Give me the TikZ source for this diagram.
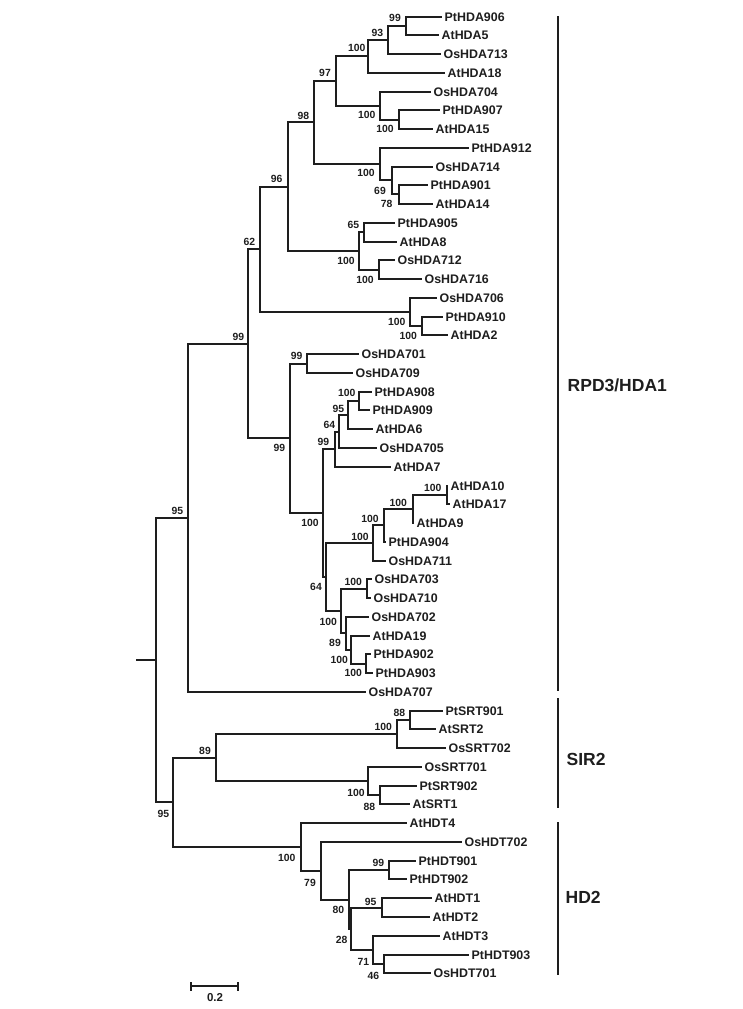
\documentclass[tikz,border=0pt]{standalone}
\usepackage{fontspec}
\setmainfont{Liberation Sans}
\definecolor{ink}{HTML}{1E1E1E}
\begin{document}
\begin{tikzpicture}[x=1pt,y=-1pt,
  br/.style={draw=ink,line width=1.5pt,line join=miter},
  leaf/.style={anchor=west,inner xsep=2.5pt,inner ysep=0pt,text=ink,font=\bfseries\fontsize{12.4}{12.4}\selectfont},
  boot/.style={inner sep=0pt,text=ink,font=\bfseries\fontsize{10.4}{10.4}\selectfont},
  clade/.style={anchor=west,inner sep=0pt,text=ink,font=\bfseries\fontsize{17.5}{17.5}\selectfont},
  cbar/.style={draw=ink,line width=1.5pt}]
\useasboundingbox[fill=white] (0,0) rectangle (743,1009);
% leaves
\foreach \x/\y/\t [count=\i from 0] in {
442/17/PtHDA906,439/35/AtHDA5,441/54/OsHDA713,445/73/AtHDA18,431/92/OsHDA704,440/110/PtHDA907,433/129/AtHDA15,469/148/PtHDA912,
433/167/OsHDA714,428/185/PtHDA901,433/204/AtHDA14,395/223/PtHDA905,397/242/AtHDA8,395/260/OsHDA712,422/279/OsHDA716,437/298/OsHDA706,
443/317/PtHDA910,448/335/AtHDA2,359/354/OsHDA701,353/373/OsHDA709,372/392/PtHDA908,370/410/PtHDA909,373/429/AtHDA6,377/448/OsHDA705,
391/467/AtHDA7,448/486/AtHDA10,450/504/AtHDA17,414/523/AtHDA9,386/542/PtHDA904,386/561/OsHDA711,372/579/OsHDA703,371/598/OsHDA710,
369/617/OsHDA702,370/636/AtHDA19,371/654/PtHDA902,373/673/PtHDA903,366/692/OsHDA707,443/711/PtSRT901,436/729/AtSRT2,446/748/OsSRT702,
422/767/OsSRT701,417/786/PtSRT902,410/804/AtSRT1,407/823/AtHDT4,462/842/OsHDT702,416/861/PtHDT901,407/879/PtHDT902,432/898/AtHDT1,
430/917/AtHDT2,440/936/AtHDT3,469/955/PtHDT903,431/973/OsHDT701}
  \node[leaf] (L\i) at (\x,\y) {\t};
% internal nodes
\coordinate (a1) at (406,26);
\coordinate (a2) at (388,40);
\coordinate (a3) at (368,56);
\coordinate (a4) at (399,120);
\coordinate (a5) at (380,106);
\coordinate (a6) at (336,81);
\coordinate (a7) at (399,194);
\coordinate (a8) at (392,180);
\coordinate (a9) at (380,164);
\coordinate (a10) at (314,122);
\coordinate (b1) at (364,232);
\coordinate (b2) at (379,270);
\coordinate (b3) at (359,251);
\coordinate (b4) at (288,187);
\coordinate (c1) at (422,326);
\coordinate (c2) at (410,312);
\coordinate (d) at (260,249);
\coordinate (e1) at (307,364);
\coordinate (f1) at (359,401);
\coordinate (f2) at (348,415);
\coordinate (f3) at (339,432);
\coordinate (f4) at (335,449);
\coordinate (g1) at (447,495);
\coordinate (g2) at (413,509);
\coordinate (g3) at (384,525);
\coordinate (g4) at (373,543);
\coordinate (h1) at (367,589);
\coordinate (h2) at (366,664);
\coordinate (h3) at (351,650);
\coordinate (h4) at (346,633);
\coordinate (h5) at (341,611);
\coordinate (g5) at (326,577);
\coordinate (f5) at (323,513);
\coordinate (e2) at (290,438);
\coordinate (E) at (248,344);
\coordinate (R1) at (188,518);
\coordinate (s1) at (410,720);
\coordinate (s2) at (397,734);
\coordinate (s3) at (380,795);
\coordinate (s4) at (368,781);
\coordinate (s5) at (216,758);
\coordinate (t1) at (389,870);
\coordinate (t2) at (382,908);
\coordinate (t3) at (384,964);
\coordinate (t4) at (373,950);
\coordinate (t5) at (351,929);
\coordinate (t6) at (349,900);
\coordinate (t7) at (321,871);
\coordinate (t8) at (301,847);
\coordinate (R2) at (173,802);
\coordinate (root) at (156,660);
\coordinate (rootstub) at (136,660);
% branches
\foreach \p/\c in {a1/L0.west,a1/L1.west,a2/a1,a2/L2.west,a3/a2,a3/L3.west,
  a4/L5.west,a4/L6.west,a5/L4.west,a5/a4,a6/a3,a6/a5,
  a7/L9.west,a7/L10.west,a8/L8.west,a8/a7,a9/L7.west,a9/a8,a10/a6,a10/a9,
  b1/L11.west,b1/L12.west,b2/L13.west,b2/L14.west,b3/b1,b3/b2,b4/a10,b4/b3,
  c1/L16.west,c1/L17.west,c2/L15.west,c2/c1,d/b4,d/c2,
  e1/L18.west,e1/L19.west,f1/L20.west,f1/L21.west,f2/f1,f2/L22.west,f3/f2,f3/L23.west,
  f4/f3,f4/L24.west,g1/L25.west,g1/L26.west,g2/g1,g2/L27.west,g3/g2,g3/L28.west,
  g4/g3,g4/L29.west,h1/L30.west,h1/L31.west,h2/L34.west,h2/L35.west,h3/L33.west,h3/h2,
  h4/L32.west,h4/h3,h5/h1,h5/h4,g5/g4,g5/h5,f5/f4,f5/g5,e2/e1,e2/f5,E/d,E/e2,
  R1/E,R1/L36.west,
  s1/L37.west,s1/L38.west,s2/s1,s2/L39.west,s3/L41.west,s3/L42.west,s4/L40.west,s4/s3,s5/s2,s5/s4,
  t1/L45.west,t1/L46.west,t2/L47.west,t2/L48.west,t3/L50.west,t3/L51.west,t4/L49.west,t4/t3,
  t5/t2,t5/t4,t6/t1,t6/t5,t7/L44.west,t7/t6,t8/L43.west,t8/t7,R2/s5,R2/t8,
  root/R1,root/R2}
  \draw[br] (\p) |- (\c);
\draw[br] (rootstub) -- (root);
% bootstrap values
\foreach \x/\y/\t [count=\i] in {
395/18.3/99,377.3/32.7/93,356.7/48.3/100,325/73.3/97,303.3/116/98,276.7/179.3/96,
366.7/115/100,385/129.3/100,366/173.3/100,380/190.7/69,386.7/204/78,353.3/225/65,
346/261/100,365/280/100,249.3/241.7/62,396.7/321.7/100,408.3/336/100,238.3/336.7/99,
296.7/356/99,279.3/448/99,346.7/393.3/100,338.3/409.3/95,329.3/425/64,323.3/442/99,
432.7/488.3/100,398.3/502.7/100,370/519.3/100,360/536.7/100,310/523.3/100,316/586.7/64,
353.3/581.7/100,328.3/621.7/100,335/643.3/89,339.3/660/100,353.3/673.3/100,177.3/510.7/95,
399.3/713.3/88,383.3/727.3/100,205/751/89,356/792.7/100,369.3/806.7/88,163.3/814/95,
286.7/858.3/100,310/882.7/79,378.3/863.3/99,370.7/901.7/95,338.3/910/80,341.7/940/28,
363.3/961.7/71,373.3/976/46}
  \node[boot] (bs\i) at (\x,\y) {\t};
% clade bars
\coordinate (k1a) at (558,16); \coordinate (k1b) at (558,691);
\coordinate (k2a) at (558,698); \coordinate (k2b) at (558,808);
\coordinate (k3a) at (558,822); \coordinate (k3b) at (558,975);
\draw[cbar] (k1a) -- (k1b);
\draw[cbar] (k2a) -- (k2b);
\draw[cbar] (k3a) -- (k3b);
\node[clade] (cl1) at (567.5,385) {RPD3/HDA1};
\node[clade] (cl2) at (566.5,759) {SIR2};
\node[clade] (cl3) at (565.5,897) {HD2};
% scale bar
\coordinate (sb1) at (191,986); \coordinate (sb2) at (238,986);
\draw[br] (sb1) -- (sb2);
\draw[br] ([yshift=-4.5pt]sb1) -- ([yshift=4.5pt]sb1);
\draw[br] ([yshift=-4.5pt]sb2) -- ([yshift=4.5pt]sb2);
\node[boot,font=\bfseries\fontsize{11.5}{11.5}\selectfont] (sbl) at (215,997.5) {0.2};
\end{tikzpicture}
\end{document}
